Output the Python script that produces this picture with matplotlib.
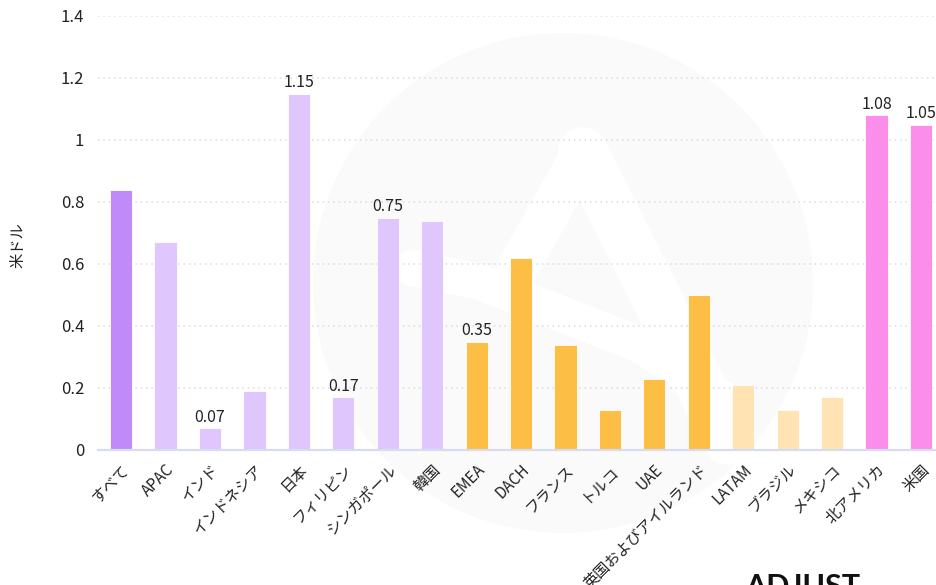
import matplotlib
matplotlib.use("Agg")
import matplotlib.pyplot as plt
from matplotlib.patches import Circle
from matplotlib.lines import Line2D

plt.rcParams['font.family'] = ['Noto Sans CJK JP', 'DejaVu Sans']

# data
regions = ['すべて', 'APAC', 'インド', 'インドネシア', '日本', 'フィリピン', 'シンガポール', '韓国',
           'EMEA', 'DACH', 'フランス', 'トルコ', 'UAE', '英国およびアイルランド',
           'LATAM', 'ブラジル', 'メキシコ', '北アメリカ', '米国']
values = [0.84, 0.67, 0.07, 0.19, 1.15, 0.17, 0.75, 0.74,
          0.35, 0.62, 0.34, 0.13, 0.23, 0.50,
          0.21, 0.13, 0.17, 1.08, 1.05]
groups = ['all', 'apac', 'apac', 'apac', 'apac', 'apac', 'apac', 'apac',
          'emea', 'emea', 'emea', 'emea', 'emea', 'emea',
          'latam', 'latam', 'latam', 'na', 'na']
labelled = ['日本', 'インド', 'フィリピン', 'シンガポール', 'EMEA', '北アメリカ', '米国']
yticks = [0, 0.2, 0.4, 0.6, 0.8, 1.0, 1.2, 1.4]
ytick_labels = ['0', '0.2', '0.4', '0.6', '0.8', '1', '1.2', '1.4']

group_colors = {
    'all': '#c08bf9',
    'apac': '#dfc6fc',
    'emea': '#fdbe45',
    'latam': '#ffe3b3',
    'na': '#fa8eea',
}

W, H = 937, 585
fig = plt.figure(figsize=(W / 100, H / 100), dpi=100)


def px(x, y):
    # pixel position (from top-left) -> figure fraction
    return x / W, 1 - y / H


# faint logo watermark behind the chart (pixel coords, origin bottom-left)
fig.add_artist(Circle((563, H - 283), 250, transform=None,
                      facecolor='#fafafa', edgecolor='none', zorder=0))
strokes = [
    ([(583, 152), (728, 440)], 36),
    ([(583, 152), (518, 268)], 30),
    ([(412, 268), (480, 282), (640, 345), (722, 398)], 26),
]
for pts, lw in strokes:
    xs = [px(*p)[0] for p in pts]
    ys = [px(*p)[1] for p in pts]
    fig.add_artist(Line2D(xs, ys, transform=fig.transFigure, color='white',
                          linewidth=lw, solid_capstyle='round',
                          solid_joinstyle='round', zorder=0.5))

ax = fig.add_axes([98 / W, 1 - 450 / H, 1 - 98 / W, (450 - 16) / H])
ax.set_zorder(2)
ax.patch.set_alpha(0)

x = list(range(len(regions)))
colors = [group_colors[g] for g in groups]
bars = ax.bar(x, values, width=0.5, color=colors, edgecolor='white',
              linewidth=0.6, zorder=3)

for rect, name, v in zip(bars, regions, values):
    if name in labelled:
        ax.text(rect.get_x() + rect.get_width() / 2, v + 0.008, f'{v:.2f}',
                ha='center', va='bottom', fontsize=11.5, color='#222222', zorder=4)

ax.set_xlim(-0.52, len(regions) - 1 + 0.36)
ax.set_ylim(0, 1.4)
ax.set_yticks(yticks)
ax.set_yticklabels(ytick_labels, fontsize=12, color='#222222')
ax.set_xticks(x)
ax.set_xticklabels(regions, rotation=45, ha='right', va='top',
                   rotation_mode='anchor', fontsize=11, color='#222222')
ax.tick_params(axis='both', length=0)
ax.tick_params(axis='y', pad=10)
ax.tick_params(axis='x', pad=8)

ax.yaxis.grid(True, linestyle=(0, (1, 2.5)), color='#d9d9ef', linewidth=1.1, zorder=0)
ax.set_axisbelow(True)
for side in ['top', 'right', 'left']:
    ax.spines[side].set_visible(False)
ax.spines['bottom'].set_color('#d8dcf0')
ax.spines['bottom'].set_linewidth(1.6)
ax.spines['bottom'].set_zorder(5)

fig.text(18 / W, 1 - 245 / H, '米ドル', rotation=90, ha='center', va='center',
         fontsize=11, color='#222222')

# brand mark, cut off by the bottom edge as in the reference
fig.text(745 / W, 1 - 573 / H, 'ADJUST', ha='left', va='top', fontsize=22,
         fontweight='bold', color='#111111', family=['Lato', 'DejaVu Sans'])

fig.savefig('out.png', dpi=100)
